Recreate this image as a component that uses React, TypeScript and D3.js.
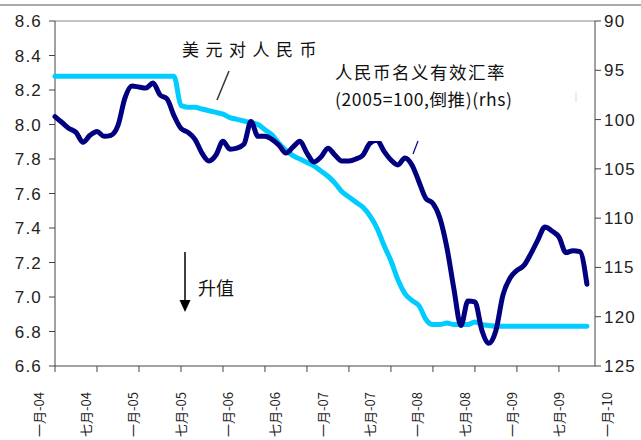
import * as d3 from "d3"

// month index 0 = 一月-04
const usdCny = [
  8.28, 8.28, 8.28, 8.28, 8.28, 8.28, 8.28, 8.28, 8.28, 8.28, 8.28, 8.28,
  8.28, 8.28, 8.28, 8.28, 8.28, 8.28, 8.11, 8.10, 8.10, 8.09, 8.08, 8.07,
  8.06, 8.04, 8.03, 8.02, 8.01, 8.00, 7.97, 7.94, 7.89, 7.85, 7.82, 7.80,
  7.78, 7.76, 7.73, 7.70, 7.66, 7.61, 7.58, 7.55, 7.52, 7.47, 7.40, 7.30,
  7.21, 7.10, 7.02, 6.98, 6.95, 6.87, 6.84, 6.84, 6.85, 6.84, 6.84, 6.84,
  6.855, 6.84, 6.835, 6.83, 6.83, 6.83, 6.83, 6.83, 6.83, 6.83, 6.83, 6.83,
  6.83, 6.83, 6.83, 6.83, 6.83,
]

const neer = [
  99.7, 100.3, 100.9, 101.3, 102.3, 101.6, 101.2, 101.7, 101.6, 100.6, 97.8, 96.6,
  96.7, 96.8, 96.3, 97.5, 97.9, 99.6, 100.9, 101.3, 102.0, 103.4, 104.2, 103.6,
  102.2, 103.0, 102.9, 102.5, 100.2, 101.7, 101.7, 102.0, 102.6, 103.4, 102.8, 102.2,
  103.4, 104.3, 103.8, 102.9, 103.6, 104.2, 104.2, 104.0, 103.6, 102.4, 102.1, 103.2,
  104.1, 104.6, 103.9, 104.6, 106.3, 108.0, 108.5, 110.0, 113.0, 117.2, 120.9, 118.4,
  118.5, 121.4, 122.7, 121.4, 117.8, 116.1, 115.3, 114.8, 113.6, 112.2, 110.9, 111.3,
  111.9, 113.5, 113.3, 113.4, 116.7,
]

const xTickMonths = [0, 6, 12, 18, 24, 30, 36, 42, 48, 54, 60, 66, 72]
const xLabels = [
  "一月-04", "七月-04", "一月-05", "七月-05", "一月-06", "七月-06", "一月-07",
  "七月-07", "一月-08", "七月-08", "一月-09", "七月-09", "一月-10",
]
const leftTicks = [6.6, 6.8, 7.0, 7.2, 7.4, 7.6, 7.8, 8.0, 8.2, 8.4, 8.6]
const rightTicks = [90, 95, 100, 105, 110, 115, 120, 125]

const W = 641
const H = 440
const L = 55
const R = 595
const T = 21
const B = 366

export default function App() {
  const x = d3.scaleLinear().domain([0, 77.3]).range([L, 596])
  const yL = d3.scaleLinear().domain([6.6, 8.6]).range([B, T])
  const yR = d3.scaleLinear().domain([90, 125]).range([T, B])
  const xLab = d3.scalePoint<string>().domain(xLabels).range([39, 607])

  const usdLine = d3
    .line<number>()
    .x((_, i) => x(i))
    .y((d) => yL(d))
    .curve(d3.curveMonotoneX)
  const neerLine = d3
    .line<number>()
    .x((_, i) => x(i))
    .y((d) => yR(d))
    .curve(d3.curveMonotoneX)

  const num = {
    fontFamily: "'Liberation Sans', Arial, sans-serif",
    fontSize: 17,
    letterSpacing: 1.2,
    fill: "#222",
  }
  const cjk = "'Noto Sans CJK SC', 'Liberation Sans', sans-serif"

  return (
    <svg
      width={W}
      height={H}
      style={{ position: "absolute", left: 0, top: 0, background: "#fff" }}
    >
      <rect width={W} height={H} fill="#fff" />
      <line x1={0} x2={W} y1={5} y2={5} stroke="#555" strokeWidth={1} />

      {/* frame */}
      <line x1={L} x2={R} y1={T} y2={T} stroke="#888" />
      <line x1={L} x2={L} y1={T} y2={B} stroke="#444" />
      <line x1={R} x2={R} y1={T} y2={B} stroke="#444" />
      <line x1={L} x2={R} y1={B} y2={B} stroke="#444" />

      {leftTicks.map((t) => (
        <g key={"l" + t}>
          <line x1={L - 6} x2={L} y1={yL(t)} y2={yL(t)} stroke="#444" />
          <text x={L - 13} y={yL(t) + 6} textAnchor="end" style={num}>
            {t.toFixed(1)}
          </text>
        </g>
      ))}
      {rightTicks.map((t) => (
        <g key={"r" + t}>
          <line x1={R} x2={R + 6} y1={yR(t)} y2={yR(t)} stroke="#444" />
          <text x={R + 9} y={yR(t) + 6} style={num}>
            {t}
          </text>
        </g>
      ))}
      {xTickMonths.map((m) => (
        <line key={"x" + m} x1={x(m)} x2={x(m)} y1={B} y2={B + 6} stroke="#444" />
      ))}
      {xLabels.map((s) => (
        <text
          key={s}
          transform={`translate(${(xLab(s) ?? 0) + 4.5},392) rotate(-90)`}
          textAnchor="end"
          style={{ fontFamily: cjk, fontSize: 13, fill: "#222" }}
        >
          {s}
        </text>
      ))}

      <path d={usdLine(usdCny) ?? ""} fill="none" stroke="#00CCFF" strokeWidth={5} strokeLinejoin="round" strokeLinecap="round" />
      <path d={neerLine(neer) ?? ""} fill="none" stroke="#000080" strokeWidth={5} strokeLinejoin="round" strokeLinecap="round" />

      {/* label box for the rhs series */}
      <rect x={330} y={55} width={190} height={86} fill="#fff" />
      <text x={335} y={79} style={{ fontFamily: cjk, fontSize: 17.5, fill: "#111", letterSpacing: 1.5 }}>
        人民币名义有效汇率
      </text>
      <text x={335} y={106} style={{ fontFamily: cjk, fontSize: 17.5, fill: "#111", letterSpacing: 0.6 }}>
        (2005=100,倒推)(rhs)
      </text>
      <line x1={418} y1={141} x2={413} y2={154} stroke="#000080" strokeWidth={1.2} />

      <text x={182} y={56} style={{ fontFamily: cjk, fontSize: 17, fill: "#111", letterSpacing: 6.5 }}>
        美元对人民币
      </text>
      <line x1={229} y1={71} x2={217} y2={100} stroke="#333" strokeWidth={1.5} />

      <line x1={576} y1={92} x2={576} y2={102} stroke="#ddd" strokeWidth={1} />

      {/* appreciation arrow */}
      <line x1={185} y1={252} x2={185} y2={302} stroke="#000" strokeWidth={1.5} />
      <path d="M179.5,300 L190.5,300 L185,312 Z" fill="#000" />
      <text x={198} y={295} style={{ fontFamily: cjk, fontSize: 18, fill: "#111" }}>
        升值
      </text>
    </svg>
  )
}
